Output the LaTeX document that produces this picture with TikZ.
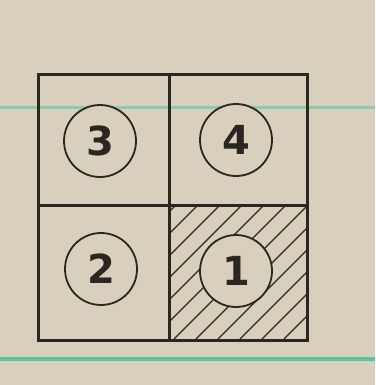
\documentclass[tikz,border=0pt]{standalone}
\usepackage{fontspec}
\setmainfont{DejaVu Sans}
\definecolor{paper}{HTML}{D8D0BC}
\definecolor{ink}{HTML}{2A2622}
\definecolor{rule}{HTML}{8CCBB2}
\definecolor{rulestrong}{HTML}{5EC2A2}
\begin{document}
\begin{tikzpicture}[x=1pt,y=-1pt,
  cellbox/.style={draw=ink,line width=2.6pt,minimum width=#1,inner sep=0pt,anchor=north west},
  numcirc/.style={circle,draw=ink,line width=1.8pt,minimum size=72pt,inner sep=0pt,fill=paper,
    font=\bfseries\fontsize{40}{40}\selectfont,text=ink},
  hatchline/.style={draw=ink,line width=1.2pt}]
\fill[paper] (0,0) rectangle (375,385);
\useasboundingbox (0,0) rectangle (375,385);
% paper rules
\draw[rule,line width=3pt] (0,108) -- (375,108);
\draw[rulestrong,line width=4.5pt] (0,359) -- (375,359);
% hatching in bottom-right cell
\begin{scope}
\clip (168,204) rectangle (306,339);
\foreach \c in {381,403,...,660} \draw[hatchline] (\c-204,204) -- (\c-339,339);
\end{scope}
% cells
\node[cellbox=131pt,minimum height=131pt] (c3) at (37,73) {};
\node[cellbox=138pt,minimum height=131pt] (c4) at (168,73) {};
\node[cellbox=131pt,minimum height=135pt] (c2) at (37,204) {};
\node[cellbox=138pt,minimum height=135pt] (c1) at (168,204) {};
% numbered circles
\node[numcirc] (n3) at (100,141) {3};
\node[numcirc] (n4) at (236,140) {4};
\node[numcirc] (n2) at (101,269) {2};
\node[numcirc] (n1) at (236,271) {1};
\end{tikzpicture}
\end{document}
